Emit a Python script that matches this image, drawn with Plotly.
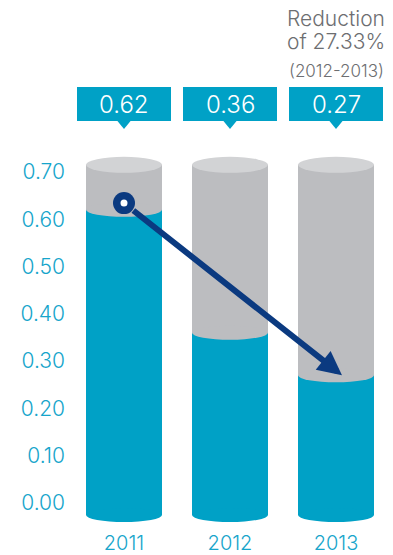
import plotly.graph_objects as go

# ---- data ----
years = ["2011", "2012", "2013"]
values = [0.62, 0.36, 0.27]
value_labels = ["0.62", "0.36", "0.27"]
y_ticks = [0.0, 0.1, 0.2, 0.3, 0.4, 0.5, 0.6, 0.7]
note_lines = ["Reduction", "of 27.33%", "(2012-2013)"]

# ---- style ----
TEAL = "#00a1c6"
TEAL_TXT = "#16a5cb"
GRAY = "#bcbdc0"
GRAY_TOP = "#d2d3d5"
NAVY = "#0b3a80"
TXT_GRAY = "#6d6e71"
FONT = "Inter"
WEIGHT = 300

W, H = 393, 555
ML, MR, MT, MB = 70, 0, 0, 30
PXX = 106.0   # px per x unit
PXY = 473.0   # px per y unit
X0PX = 124.0  # pixel of x=0
Y0PX = 503.0  # pixel of y=0

xs = list(range(len(years)))
bar_w = 76 / PXX
base = -12 / PXY
cap = 0.715

def ypx(p):
    return (Y0PX - p) / PXY

x_range = [(ML - X0PX) / PXX, (W - MR - X0PX) / PXX]
y_range = [ypx(H - MB), ypx(MT)]

fig = go.Figure()
fig.add_trace(go.Bar(x=xs, y=[cap - base] * len(xs), base=base, width=bar_w,
                     marker=dict(color=GRAY, line=dict(width=0)), hoverinfo="skip"))
fig.add_trace(go.Bar(x=xs, y=[v - base for v in values], base=base, width=bar_w,
                     marker=dict(color=TEAL, line=dict(width=0)), hoverinfo="skip"))

shapes = []
for i, v in zip(xs, values):
    shapes.append(dict(type="circle", xref="x", yref="y", x0=i - bar_w / 2, x1=i + bar_w / 2,
                       ysizemode="pixel", yanchor=v, y0=-7, y1=7,
                       fillcolor=GRAY, line=dict(width=0), layer="above"))
    shapes.append(dict(type="circle", xref="x", yref="y", x0=i - bar_w / 2, x1=i + bar_w / 2,
                       ysizemode="pixel", yanchor=cap, y0=-8, y1=8,
                       fillcolor=GRAY_TOP, line=dict(width=0), layer="above"))
    shapes.append(dict(type="circle", xref="x", yref="y", x0=i - bar_w / 2, x1=i + bar_w / 2,
                       ysizemode="pixel", yanchor=base, y0=-7, y1=7,
                       fillcolor=TEAL, line=dict(width=0), layer="above"))
    shapes.append(dict(type="rect", xref="x", yref="y", xsizemode="pixel", xanchor=i,
                       x0=-47, x1=47, y0=ypx(121), y1=ypx(87),
                       fillcolor=TEAL, line=dict(width=0), layer="above"))
    dx = 7 / PXX
    shapes.append(dict(type="path", xref="x", yref="y",
                       path=f"M{i - dx},{ypx(120.5)} L{i + dx},{ypx(120.5)} L{i},{ypx(129)} Z",
                       fillcolor=TEAL, line=dict(width=0), layer="above"))

start_y = values[0] + 0.014
end_x = xs[-1] + 6 / PXX
shapes.append(dict(type="circle", xref="x", yref="y", xsizemode="pixel", ysizemode="pixel",
                   xanchor=xs[0], yanchor=start_y, x0=-11, x1=11, y0=-11, y1=11,
                   fillcolor=NAVY, line=dict(width=0), layer="above"))
shapes.append(dict(type="circle", xref="x", yref="y", xsizemode="pixel", ysizemode="pixel",
                   xanchor=xs[0], yanchor=start_y, x0=-3.5, x1=3.5, y0=-3.5, y1=3.5,
                   fillcolor="white", line=dict(width=0), layer="above"))

annotations = []
for i, lab in zip(xs, value_labels):
    annotations.append(dict(x=i, y=ypx(104), xref="x", yref="y", text=lab, showarrow=False,
                            font=dict(family=FONT, size=24, color="white", weight=WEIGHT),
                            xanchor="center", yanchor="middle"))

annotations.append(dict(x=end_x, y=values[-1], xref="x", yref="y", ax=xs[0], ay=start_y,
                        axref="x", ayref="y", text="", showarrow=True, arrowhead=2,
                        arrowsize=0.8, arrowwidth=6, arrowcolor=NAVY, startstandoff=10))

for txt, p, sz, hh in zip(note_lines, [18, 41, 70], [21, 21, 17], [21, 21, 19]):
    annotations.append(dict(x=xs[-1], y=ypx(p), xref="x", yref="y", text=txt, showarrow=False,
                            font=dict(family=FONT, size=sz, color=TXT_GRAY, weight=WEIGHT),
                            height=hh, xanchor="center", yanchor="middle"))

fig.update_layout(
    width=W, height=H, autosize=False,
    margin=dict(l=ML, r=MR, t=MT, b=MB, pad=0),
    paper_bgcolor="white", plot_bgcolor="white",
    barmode="overlay", showlegend=False,
    shapes=shapes, annotations=annotations,
    xaxis=dict(range=x_range, tickmode="array", tickvals=xs, ticktext=years,
               showgrid=False, zeroline=False, showline=False, ticks="",
               ticklabelstandoff=4,
               tickfont=dict(family=FONT, size=20, color=TEAL_TXT, weight=WEIGHT), fixedrange=True),
    yaxis=dict(range=y_range, tickmode="array", tickvals=y_ticks,
               ticktext=[f"{t:.2f}" for t in y_ticks],
               showgrid=False, zeroline=False, showline=False, ticks="",
               ticklabelstandoff=4,
               tickfont=dict(family=FONT, size=21, color=TEAL_TXT, weight=WEIGHT), fixedrange=True),
)

fig.write_html("out.html")
